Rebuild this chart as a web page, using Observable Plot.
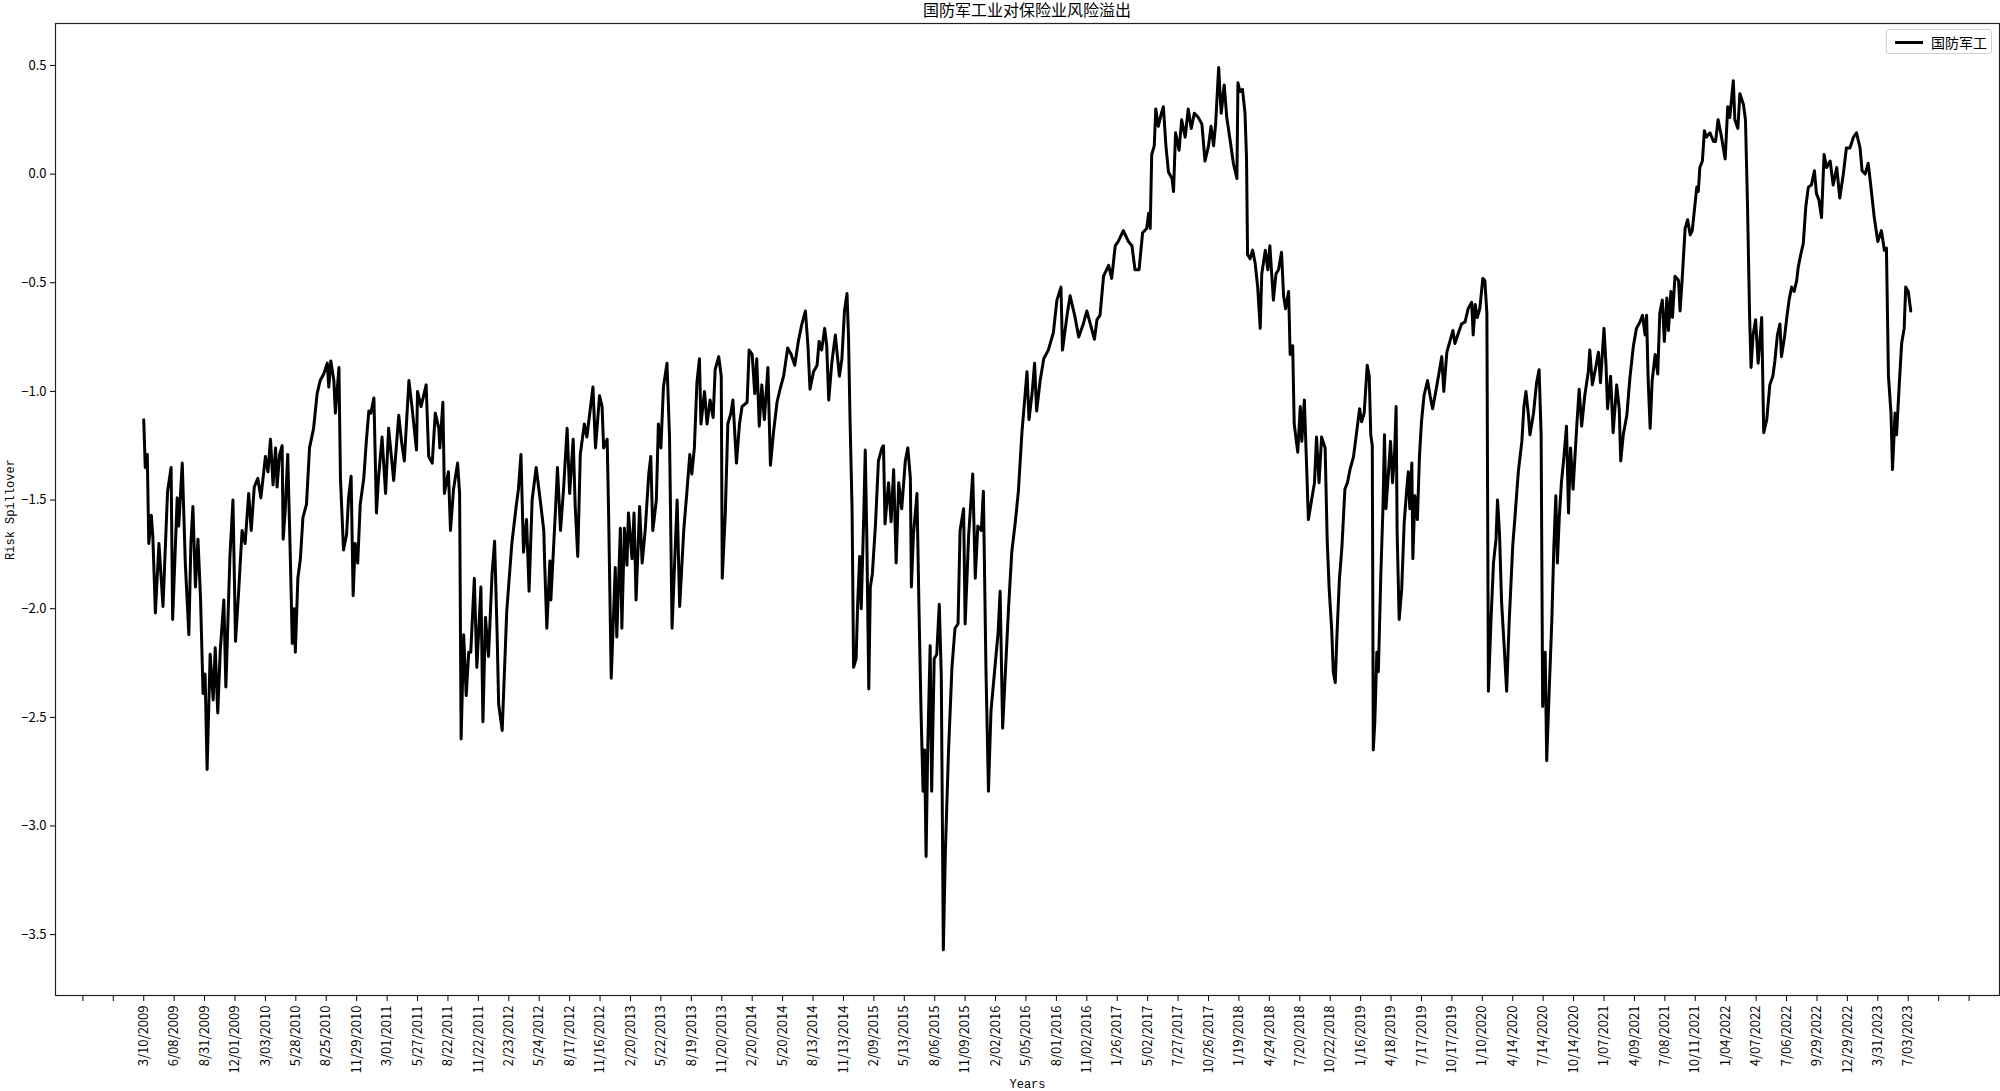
<!DOCTYPE html>
<html>
<head>
<meta charset="utf-8">
<script src="https://cdn.jsdelivr.net/npm/d3@7"></script>
<script src="https://cdn.jsdelivr.net/npm/@observablehq/plot@0.6"></script>
<style>
  html, body { margin: 0; padding: 0; background: #fff; }
  #wrap { position: relative; width: 2000px; height: 1091px; font-family: "Noto Sans CJK SC", "DejaVu Sans", sans-serif; }
  #title { position: absolute; left: 0; width: 2054px; top: -3px; text-align: center; font-size: 16px; color: #000; }
  #legend { position: absolute; left: 1886px; top: 29px; width: 106px; height: 25px; border: 1px solid #d0d0d0; border-radius: 3px; background: #fff; box-sizing: border-box; }
  #legend .sw { position: absolute; left: 8px; top: 11px; width: 28px; height: 3px; background: #000; }
  #legend .lb { position: absolute; left: 44px; top: 2px; font-size: 14px; color: #000; }
  svg g[aria-label="x-axis label"] text, svg g[aria-label="y-axis label"] text { font-family: "Liberation Mono", "DejaVu Sans Mono", monospace; font-size: 12px; }
</style>
</head>
<body>
<div id="wrap">
  <div id="title">国防军工业对保险业风险溢出</div>
  <div id="legend"><div class="sw"></div><div class="lb">国防军工</div></div>
</div>
<script>
// Trading-day index (0 = 3/10/2009) and risk spillover value
const dayIndex = [
0,3,7,10,15,18,23,30,38,47,54,57,66,69,76,82,89,93,97,102,107,112,117,121,125,131,137,141,146,151,158,162,170,176,181,187,194,200,207,212,218,225,231,240,245,250,255,260,263,268,273,275,279,284,289,293,297,299,304,309,314,321,327,335,342,348,355,362,365,369,375,378,385,388,394,400,404,409,413,417,422,427,434,439,444,448,454,459,463,470,477,483,493,503,509,514,523,529,538,540,547,557,562,569,575,582,
584,590,593,601,605,611,619,623,626,631,636,641,645,652,657,665,669,674,680,687,692,697,700,707,716,726,735,739,744,749,755,760,766,774,782,789,791,795,801,803,812,816,822,828,835,840,847,851,856,861,869,874,886,891,899,904,907,914,917,922,930,933,940,943,948,953,956,963,967,971,978,983,989,996,1000,1004,1011,1015,1020,1025,1032,1037,1042,1052,1057,1065,1071,1077,1081,1086,1091,1096,1099,1106,1111,1117,1123,1127,1134,1139,1141,1147,1152,1158,1162,1169,1175,
1180,1190,1194,1200,1205,1209,1214,1219,1224,1231,1236,1242,1249,1255,1262,1270,1277,1284,1291,1298,1305,1310,1314,1321,1328,1332,1337,1343,1347,1351,1357,1364,1372,1377,1382,1387,1390,1393,1397,1400,1405,1408,1412,1415,1420,1423,1426,1430,1433,1437,1443,1449,1456,1459,1462,1469,1474,1479,1484,1489,1495,1502,1507,1512,1514,1518,1525,1529,1533,1537,1540,1543,1546,1551,1554,1559,1564,1569,1573,1577,1581,1587,1594,1600,1606,1610,1617,1620,1627,1635,1640,1645,1652,1656,1661,1666,1671,1678,1685,1689,1694,1699,1706,1712,1719,1725,1732,1737,1742,1746,1752,1757,1761,1768,1775,
1784,1794,1801,1809,1812,1821,1827,1836,1844,1853,1860,1867,1875,1880,1886,1893,1903,1909,1916,1922,1932,1942,1949,1955,1963,1970,1978,1982,1985,1988,1993,1996,2001,2007,2011,2016,2021,2028,2031,2035,2042,2047,2054,2060,2066,2072,2080,2087,2093,2100,2105,2110,2114,2120,2125,2131,2136,2143,2149,2156,2158,2162,2167,2172,2175,2177,2182,2187,2192,2197,2202,2205,2212,2217,2221,2228,2233,2238,2244,2248,2252,2258,2261,2266,2269,2276,2281,2284,2289,2294,2297,2304,2309,2313,2318,2323,2330,2334,2338,2343,2346,2350,2353,2358,2363,
2369,2374,2379,2386,2392,2398,2402,2407,2413,2417,2420,2423,2425,2428,2432,2435,2440,2444,2447,2450,2455,2459,2463,2467,2470,2472,2476,2481,2486,2491,2494,2497,2501,2503,2507,2512,2516,2520,2525,2532,2537,2542,2549,2555,2560,2564,2570,2576,2582,2586,2593,2599,2606,2612,2619,2622,2626,2630,2635,2641,2645,2649,2652,2657,2662,2667,2670,2674,2678,2683,2688,2693,2700,2704,2711,2718,2722,2726,2731,2734,2741,2747,2752,2756,2759,2764,2767,2772,2777,2781,2785,2788,2792,2796,2801,2806,2810,2814,2819,2826,2831,2836,2842,2849,2852,2857,2862,2869,2873,2880,2884,2887,2893,2898,2905,2910,2913,2918,2925,2931,2938,2944,2951,2956,2961,2964,2967,2971,
2975,2981,2986,2990,2995,2999,3004,3007,3012,3015,3020,3027,3030,3034,3040,3045,3050,3054,3059,3063,3066,3069,3074,3078,3082,3089,3096,3100,3105,3111,3119,3124,3128,3135,3138,3144,3148,3155,3159,3163,3167,3170,3174,3179,3184,3188,3191,3195,3201,3207,3213,3217,3222,3227,3230,3236,3240,3245,3250,3255,3260,3263,3268,3273,3278,3283,3289,3295,3299,3304,3309,3314,3319,3326,3332,3339,3345,3352,3358,3365,3372,3378,3385,3389,3395,3401,3406,3413,3420,3427,3433,3437,3441,3446,3449,3454,3457,3462,3467,3472,3475,3480,3485
];
const spillover = [
-1.13,-1.35,-1.29,-1.70,-1.57,-1.67,-2.02,-1.70,-1.99,-1.46,-1.35,-2.05,-1.49,-1.62,-1.33,-1.79,-2.12,-1.70,-1.53,-1.90,-1.68,-1.95,-2.39,-2.30,-2.74,-2.21,-2.42,-2.18,-2.48,-2.19,-1.96,-2.36,-1.76,-1.50,-2.15,-1.93,-1.64,-1.70,-1.47,-1.64,-1.44,-1.40,-1.49,-1.30,-1.37,-1.22,-1.43,-1.26,-1.44,-1.29,-1.25,-1.68,-1.55,-1.29,-1.75,-2.16,-2.00,-2.20,-1.86,-1.77,-1.58,-1.52,-1.26,-1.17,-1.01,-0.95,-0.92,-0.87,-0.98,-0.86,-0.95,-1.10,-0.89,-1.40,-1.73,-1.66,-1.49,-1.39,-1.94,-1.70,-1.79,-1.52,-1.40,-1.23,-1.09,-1.10,-1.03,-1.56,-1.40,-1.21,-1.47,-1.17,-1.41,-1.11,-1.24,-1.32,-0.95,-1.07,-1.27,-1.00,-1.07,-0.97,-1.30,-1.33,-1.10,-1.17,
-1.26,-1.05,-1.47,-1.37,-1.64,-1.45,-1.33,-1.47,-2.60,-2.12,-2.40,-2.20,-2.20,-1.86,-2.27,-1.90,-2.52,-2.04,-2.22,-1.84,-1.69,-2.12,-2.44,-2.56,-2.01,-1.70,-1.52,-1.45,-1.29,-1.74,-1.59,-1.92,-1.50,-1.35,-1.50,-1.64,-1.81,-2.09,-1.78,-1.96,-1.55,-1.35,-1.64,-1.45,-1.17,-1.47,-1.22,-1.53,-1.76,-1.29,-1.15,-1.21,-0.98,-1.26,-1.02,-1.07,-1.26,-1.22,-1.58,-2.32,-1.81,-2.13,-1.63,-2.09,-1.63,-1.80,-1.56,-1.77,-1.56,-1.96,-1.53,-1.79,-1.64,-1.38,-1.30,-1.64,-1.50,-1.15,-1.26,-0.98,-0.87,-1.21,-2.09,-1.50,-1.99,-1.64,-1.47,-1.29,-1.38,-1.26,-0.96,-0.85,-1.15,-1.00,-1.15,-1.04,-1.12,-0.90,-0.84,-0.93,-1.86,-1.56,-1.15,-1.10,-1.04,-1.33,-1.15,
-1.07,-1.05,-0.81,-0.83,-1.01,-0.85,-1.16,-0.97,-1.13,-0.89,-1.34,-1.19,-1.05,-0.99,-0.93,-0.80,-0.83,-0.88,-0.77,-0.69,-0.63,-0.79,-0.99,-0.91,-0.88,-0.77,-0.81,-0.71,-0.79,-1.04,-0.87,-0.74,-0.93,-0.85,-0.63,-0.55,-0.75,-1.13,-1.54,-2.27,-2.23,-1.98,-1.76,-2.00,-1.58,-1.27,-1.66,-2.37,-1.90,-1.84,-1.62,-1.32,-1.26,-1.25,-1.61,-1.42,-1.60,-1.36,-1.79,-1.42,-1.54,-1.32,-1.26,-1.40,-1.90,-1.66,-1.47,-2.00,-2.47,-2.84,-2.65,-3.14,-2.67,-2.17,-2.84,-2.23,-2.21,-1.98,-2.31,-3.57,-3.12,-2.67,-2.27,-2.09,-2.07,-1.64,-1.54,-2.07,-1.66,-1.38,-1.86,-1.62,-1.64,-1.46,-2.27,-2.84,-2.47,-2.29,-2.11,-1.92,-2.55,-2.31,-1.98,-1.74,-1.60,-1.46,-1.19,-1.05,-0.91,-1.13,-1.01,-0.87,-1.09,-0.95,-0.85,
-0.81,-0.73,-0.58,-0.52,-0.81,-0.65,-0.56,-0.65,-0.75,-0.69,-0.63,-0.69,-0.76,-0.67,-0.65,-0.47,-0.42,-0.48,-0.33,-0.31,-0.26,-0.31,-0.33,-0.44,-0.44,-0.27,-0.25,-0.18,-0.25,0.09,0.13,0.30,0.22,0.28,0.31,0.13,0.01,-0.02,-0.08,0.19,0.11,0.25,0.17,0.30,0.21,0.28,0.26,0.23,0.06,0.13,0.22,0.13,0.23,0.49,0.28,0.41,0.26,0.15,0.05,-0.02,0.42,0.38,0.39,0.28,0.07,-0.37,-0.39,-0.35,-0.41,-0.52,-0.71,-0.46,-0.35,-0.44,-0.33,-0.58,-0.46,-0.44,-0.36,-0.56,-0.62,-0.54,-0.83,-0.79,-1.15,-1.28,-1.07,-1.23,-1.04,-1.38,-1.59,-1.49,-1.42,-1.21,-1.42,-1.21,-1.26,-1.68,-1.91,-2.10,-2.29,-2.34,-2.14,-1.87,-1.72,
-1.45,-1.42,-1.36,-1.30,-1.19,-1.08,-1.14,-1.10,-0.88,-0.93,-1.20,-1.25,-2.65,-2.52,-2.20,-2.29,-1.83,-1.54,-1.20,-1.54,-1.37,-1.23,-1.42,-1.28,-1.07,-1.65,-2.05,-1.91,-1.60,-1.45,-1.37,-1.54,-1.33,-1.77,-1.48,-1.59,-1.30,-1.14,-1.02,-0.95,-1.02,-1.08,-0.99,-0.91,-0.84,-1.00,-0.82,-0.77,-0.72,-0.78,-0.73,-0.69,-0.68,-0.62,-0.59,-0.74,-0.60,-0.66,-0.62,-0.48,-0.49,-0.64,-2.38,-2.06,-1.79,-1.68,-1.50,-1.66,-1.97,-2.17,-2.38,-2.06,-1.71,-1.59,-1.37,-1.23,-1.07,-1.00,-1.11,-1.20,-1.10,-0.96,-0.90,-1.20,-2.45,-2.20,-2.70,-2.37,-2.06,-1.72,-1.48,-1.79,-1.57,-1.42,-1.30,-1.16,-1.56,-1.26,-1.45,-1.17,-0.99,-1.16,-1.02,-0.91,-0.81,-0.97,-0.91,-0.82,-0.96,-0.71,-0.88,-1.08,-0.93,-1.19,-0.97,-1.08,-1.32,-1.20,-1.11,-0.94,-0.79,-0.71,-0.68,-0.65,-0.74,-0.65,-0.94,-1.17,
-0.95,-0.83,-0.92,-0.64,-0.58,-0.77,-0.57,-0.72,-0.54,-0.66,-0.47,-0.49,-0.63,-0.49,-0.25,-0.21,-0.28,-0.26,-0.15,-0.06,-0.08,0.03,0.06,0.20,0.17,0.19,0.15,0.15,0.25,0.18,0.07,0.31,0.26,0.43,0.25,0.21,0.37,0.32,0.25,-0.14,-0.64,-0.89,-0.74,-0.67,-0.87,-0.75,-0.66,-1.19,-1.13,-0.97,-0.93,-0.86,-0.74,-0.69,-0.84,-0.75,-0.67,-0.58,-0.52,-0.54,-0.49,-0.43,-0.37,-0.32,-0.15,-0.06,-0.05,0.015,-0.09,-0.12,-0.20,0.09,0.03,0.06,-0.05,0.03,-0.11,0.00,0.12,0.12,0.17,0.19,0.12,0.015,0.00,0.05,-0.05,-0.20,-0.31,-0.26,-0.35,-0.34,-0.93,-1.10,-1.36,-1.10,-1.20,-0.98,-0.78,-0.71,-0.52,-0.54,-0.63
];
// Every 60th trading day is labelled
const tickLabels = ["3/10/2009","6/08/2009","8/31/2009","12/01/2009","3/03/2010","5/28/2010","8/25/2010","11/29/2010","3/01/2011","5/27/2011","8/22/2011","11/22/2011","2/23/2012","5/24/2012","8/17/2012","11/16/2012","2/20/2013","5/22/2013","8/19/2013","11/20/2013","2/20/2014","5/20/2014","8/13/2014","11/13/2014","2/09/2015","5/13/2015","8/06/2015","11/09/2015","2/02/2016","5/05/2016","8/01/2016","11/02/2016","1/26/2017","5/02/2017","7/27/2017","10/26/2017","1/19/2018","4/24/2018","7/20/2018","10/22/2018","1/16/2019","4/18/2019","7/17/2019","10/17/2019","1/10/2020","4/14/2020","7/14/2020","10/14/2020","1/07/2021","4/09/2021","7/08/2021","10/11/2021","1/04/2022","4/07/2022","7/06/2022","9/29/2022","12/29/2022","3/31/2023","7/03/2023"];
const yTicks = [-3.5,-3.0,-2.5,-2.0,-1.5,-1.0,-0.5,0.0,0.5];
const seriesName = "国防军工";

const data = dayIndex.map((d, i) => ({x: d, y: spillover[i]}));
const step = 60;
const xTicks = d3.range(-2 * step, (tickLabels.length + 2) * step, step);

const chart = Plot.plot({
  width: 2000,
  height: 1091,
  marginLeft: 55,
  marginRight: 1,
  marginTop: 23,
  marginBottom: 96,
  style: {fontFamily: '"Noto Sans CJK SC", "DejaVu Sans", sans-serif', fontSize: "13px", color: "#000", background: "transparent"},
  x: {
    domain: [-174, 3660],
    ticks: xTicks,
    tickFormat: d => { const k = Math.round(d / step); return (d >= 0 && k < tickLabels.length) ? tickLabels[k] : ""; },
    tickRotate: -90,
    tickSize: 6,
    tickPadding: 4,
    label: "Years",
    labelAnchor: "center",
    labelOffset: 92,
    labelArrow: "none"
  },
  y: {
    domain: [-3.78, 0.693],
    ticks: yTicks,
    tickFormat: d => d.toFixed(1).replace("-", "\u2212"),
    tickSize: 5,
    tickPadding: 4,
    label: "Risk Spillover",
    labelAnchor: "center",
    labelOffset: 50,
    labelArrow: "none"
  },
  marks: [
    Plot.frame({stroke: "#222", strokeWidth: 1.2}),
    Plot.line(data, {x: "x", y: "y", stroke: "#000", strokeWidth: 3, strokeLinejoin: "round"})
  ]
});
document.getElementById("wrap").prepend(chart);
chart.style.position = "absolute";
chart.style.left = "0";
chart.style.top = "0";
</script>
</body>
</html>
